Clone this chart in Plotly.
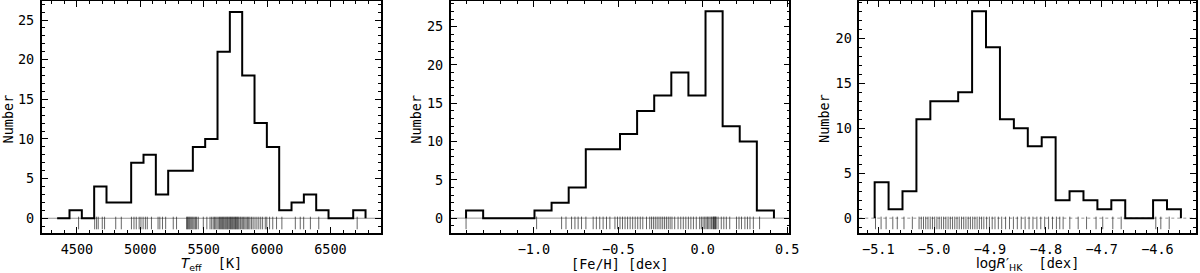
import numpy as np
import plotly.graph_objects as go

# ---------------- data ----------------
teff_counts = [0, 1, 0, 4, 2, 2, 7, 8, 3, 6, 6, 9, 10, 21, 26, 18, 12, 9, 1, 2, 3, 1, 0, 0, 1]
teff_bin_min, teff_bin_max = 4344.0, 6777.0

feh_counts = [1, 0, 0, 0, 1, 2, 4, 9, 9, 11, 14, 16, 19, 16, 27, 12, 10, 1]
feh_bin_min, feh_bin_max = -1.402, 0.422

rhk_counts = [4, 1, 3, 11, 13, 13, 14, 23, 19, 11, 10, 8, 9, 2, 3, 2, 1, 2, 0, 0, 2, 1]
rhk_bin_min, rhk_bin_max = -5.1065, -4.558

teff_rug = [4513, 4640, 4655, 4668, 4700, 4718, 4806, 4850, 4930, 4950, 4968, 4991, 5005, 5022,
            5040, 5055, 5088, 5140, 5154, 5175, 5200, 5260, 5286, 5365, 5372, 5378, 5385, 5392,
            5400, 5408, 5416, 5425, 5435, 5444, 5457, 5497, 5525, 5550, 5563, 5575, 5585, 5595,
            5605, 5615, 5625, 5632, 5640, 5648, 5655, 5662, 5670, 5677, 5684, 5690, 5698, 5705,
            5712, 5718, 5725, 5731, 5738, 5745, 5751, 5758, 5765, 5771, 5778, 5788, 5795, 5805,
            5815, 5825, 5835, 5845, 5855, 5865, 5878, 5890, 5905, 5920, 5935, 5950, 5965, 5986,
            5998, 6020, 6045, 6075, 6117, 6223, 6262, 6289, 6342, 6408, 6711]

feh_rug = [-1.402, -0.984, -0.836, -0.81, -0.777, -0.757, -0.738, -0.718, -0.692, -0.649, -0.63,
           -0.61, -0.59, -0.57, -0.55, -0.52, -0.505, -0.49, -0.475, -0.46, -0.445, -0.43, -0.415,
           -0.4, -0.385, -0.37, -0.355, -0.333, -0.314, -0.303, -0.292, -0.281, -0.27, -0.259,
           -0.248, -0.237, -0.226, -0.215, -0.204, -0.193, -0.182, -0.166, -0.146, -0.13, -0.115,
           -0.1, -0.085, -0.07, -0.055, -0.038, -0.018, -0.008, 0.002, 0.012, 0.02, 0.028, 0.036,
           0.044, 0.052, 0.06, 0.064, 0.068, 0.072, 0.076, 0.08, 0.091, 0.11, 0.125, 0.14, 0.16,
           0.2, 0.215, 0.23, 0.25, 0.265, 0.28, 0.3, 0.337]

rhk_rug = [-5.105, -5.095, -5.086, -5.074, -5.066, -5.054, -5.039, -5.027, -5.023, -5.019, -5.015,
           -5.011, -5.007, -5.003, -4.999, -4.995, -4.991, -4.987, -4.983, -4.979, -4.975, -4.971,
           -4.967, -4.963, -4.959, -4.955, -4.951, -4.947, -4.943, -4.939, -4.935, -4.931, -4.927,
           -4.923, -4.919, -4.915, -4.911, -4.906, -4.901, -4.896, -4.891, -4.885, -4.879, -4.872,
           -4.865, -4.858, -4.851, -4.844, -4.837, -4.830, -4.823, -4.816, -4.809, -4.802, -4.795,
           -4.788, -4.781, -4.775, -4.769, -4.757, -4.742, -4.727, -4.710, -4.698, -4.680, -4.665,
           -4.603, -4.594, -4.579]

panels = [
    dict(counts=teff_counts, lo=teff_bin_min, hi=teff_bin_max, rug=teff_rug,
         xrange=[4222, 6899], yrange=[-1.86, 27.4], dtick=500, minor=100, fmt="d",
         rug_y=-0.6, zero_dash="solid", dom=[41.7, 381.0]),
    dict(counts=feh_counts, lo=feh_bin_min, hi=feh_bin_max, rug=feh_rug,
         xrange=[-1.493, 0.513], yrange=[-1.94, 28.35], dtick=0.5, minor=0.1, fmt=".1f",
         rug_y=-0.62, zero_dash="solid", dom=[450.7, 789.3]),
    dict(counts=rhk_counts, lo=rhk_bin_min, hi=rhk_bin_max, rug=rhk_rug,
         xrange=[-5.134, -4.531], yrange=[-1.65, 24.15], dtick=0.1, minor=0.02, fmt=".1f",
         rug_y=-0.53, zero_dash="dot", dom=[859.3, 1196.0]),
]

W, H = 1200, 273
MT, MB = 1, 40
MONO = "DejaVu Sans Mono"
FS = 13.5
RUG_COLOR = "rgba(0,0,0,0.6)"

fig = go.Figure()
layout = dict(width=W, height=H, margin=dict(l=0, r=0, t=MT, b=MB),
              plot_bgcolor="white", paper_bgcolor="white", showlegend=False)
shapes = []
annotations = []

for i, p in enumerate(panels):
    n = i + 1
    xa = "x" if n == 1 else f"x{n}"
    ya = "y" if n == 1 else f"y{n}"
    edges = np.linspace(p["lo"], p["hi"], len(p["counts"]) + 1)
    xs = [edges[0]] + list(edges[:-1]) + [edges[-1]]
    ys = [0] + list(p["counts"]) + [0]
    # rug
    fig.add_trace(go.Scatter(x=p["rug"], y=[p["rug_y"]] * len(p["rug"]), mode="markers",
                             marker=dict(symbol="line-ns-open", size=9, color=RUG_COLOR,
                                         line=dict(color=RUG_COLOR, width=1)),
                             xaxis=xa, yaxis=ya, hoverinfo="skip"))
    # histogram step
    fig.add_trace(go.Scatter(x=xs, y=ys, mode="lines", line=dict(shape="hv", color="black", width=2),
                             xaxis=xa, yaxis=ya))
    axcommon = dict(showline=True, linecolor="black", linewidth=1.6, mirror="allticks",
                    ticks="inside", ticklen=6, tickwidth=1.2, tickcolor="black",
                    showgrid=False, zeroline=False, automargin=False,
                    tickfont=dict(family=MONO, size=FS, color="black"))
    layout["xaxis" if n == 1 else f"xaxis{n}"] = dict(
        axcommon, domain=[p["dom"][0] / W, p["dom"][1] / W], anchor=ya, range=p["xrange"],
        dtick=p["dtick"], tick0=0, tickformat=p["fmt"], ticklabelstandoff=3,
        minor=dict(ticks="inside", ticklen=3, tickwidth=1, tickcolor="black", dtick=p["minor"], tick0=0))
    layout["yaxis" if n == 1 else f"yaxis{n}"] = dict(
        axcommon, domain=[0, 1], anchor=xa, range=p["yrange"], dtick=5, tick0=0,
        ticklabelstandoff=3,
        minor=dict(ticks="inside", ticklen=3, tickwidth=1, tickcolor="black", dtick=1, tick0=0))
    shapes.append(dict(type="line", xref=f"{xa} domain", yref=ya, x0=0, x1=1, y0=0, y1=0,
                       line=dict(color="rgba(140,140,140,0.9)", width=1, dash=p["zero_dash"]),
                       layer="below"))

PH = H - MT - MB
def py(px):
    return (H - MB - px) / PH

ylab_x = [7.5, 415.7, 824.0]
for x in ylab_x:
    annotations.append(dict(text="Number", xref="paper", yref="paper", x=x / W, y=py(119),
                            xanchor="center", yanchor="middle", textangle=-90, showarrow=False,
                            font=dict(family=MONO, size=FS, color="black")))

SANS = "DejaVu Sans"
xtitles = [
    f"<span style='font-family:{SANS}'><i>T</i><sub>eff</sub></span>  [K]",
    "[Fe/H] [dex]",
    f"<span style='font-family:{SANS}'>log<i>R</i>′<sub>HK</sub></span>  [dex]",
]
for p, t in zip(panels, xtitles):
    cx = (p["dom"][0] + p["dom"][1]) / 2
    annotations.append(dict(text=t, xref="paper", yref="paper", x=cx / W, y=py(264),
                            xanchor="center", yanchor="middle", showarrow=False,
                            font=dict(family=MONO, size=FS, color="black")))

layout["shapes"] = shapes
layout["annotations"] = annotations
fig.update_layout(**layout)
fig.write_html("out.html", config={"displayModeBar": False},
               post_script="document.body.style.margin='0';document.body.style.overflow='hidden';")
